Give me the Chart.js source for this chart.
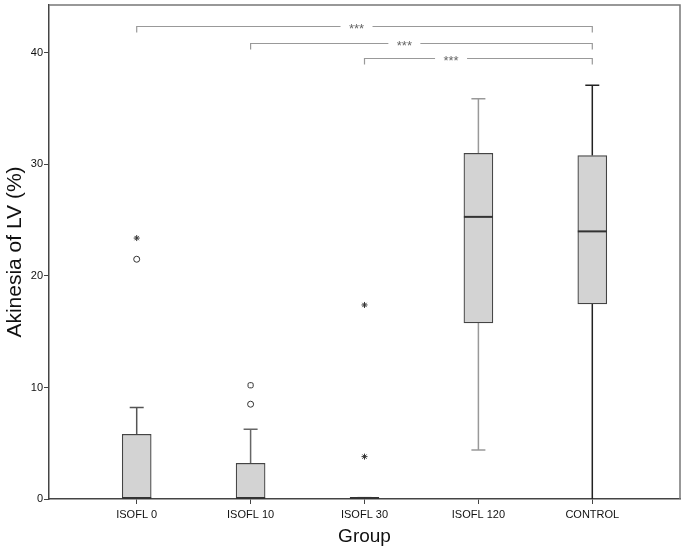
<!DOCTYPE html>
<html>
<head>
<meta charset="utf-8">
<script src="https://cdn.jsdelivr.net/npm/chart.js@4/dist/chart.umd.min.js"></script>
<style>
  html, body { margin: 0; padding: 0; background: #fff; }
  #wrap { width: 685px; height: 548px; }
</style>
</head>
<body>
<div id="wrap"><canvas id="chart"></canvas></div>
<script>
// data
const categories = ['ISOFL 0', 'ISOFL 10', 'ISOFL 30', 'ISOFL 120', 'CONTROL'];
const q1 = [0, 0, 0, 15.8, 17.5];
const q3 = [5.8, 3.2, 0.12, 31.0, 30.8];
const medians = [0, 0, 0, 25.3, 24.0];
const whiskerLow = [0, 0, 0, 4.4, 0];
const whiskerHigh = [8.2, 6.25, 0.12, 35.9, 37.1];

const outlierGroup = [0, 0, 1, 1, 2, 2];
const outlierValue = [21.5, 23.4, 8.5, 10.2, 17.4, 3.8];
const outlierKind = ['circle', 'star', 'circle', 'rectRounded', 'star', 'star'];

// significance brackets: from group -> to group, height, label position
const bracketFrom = [0, 1, 2];
const bracketTo = [4, 4, 4];
const bracketHeight = [42.4, 40.9, 39.55];
const bracketLabelX = [1.93, 2.35, 2.76];
const bracketLabel = ['***', '***', '***'];

const yTicks = [0, 10, 20, 30, 40];

const whiskerColors = ['#555', '#666', '#555', '#999', '#222'];
const FONT = '"Liberation Sans", Arial, sans-serif';

const extras = {
  id: 'boxExtras',
  beforeDatasetsDraw(chart) {
    const { ctx, scales: { x, y } } = chart;
    ctx.save();
    ctx.lineWidth = 1.5;
    categories.forEach((c, i) => {
      const px = x.getPixelForValue(i);
      ctx.strokeStyle = whiskerColors[i];
      ctx.beginPath();
      ctx.moveTo(px, y.getPixelForValue(q3[i]));
      ctx.lineTo(px, y.getPixelForValue(whiskerHigh[i]));
      ctx.moveTo(px - 7, y.getPixelForValue(whiskerHigh[i]));
      ctx.lineTo(px + 7, y.getPixelForValue(whiskerHigh[i]));
      if (whiskerLow[i] < q1[i]) {
        ctx.moveTo(px, y.getPixelForValue(q1[i]));
        ctx.lineTo(px, y.getPixelForValue(whiskerLow[i]));
        if (whiskerLow[i] > 0) {
          ctx.moveTo(px - 7, y.getPixelForValue(whiskerLow[i]));
          ctx.lineTo(px + 7, y.getPixelForValue(whiskerLow[i]));
        }
      }
      ctx.stroke();
    });
    ctx.restore();
  },
  afterDatasetsDraw(chart) {
    const { ctx, scales: { x, y } } = chart;
    ctx.save();
    // medians
    ctx.strokeStyle = '#333';
    ctx.lineWidth = 2;
    categories.forEach((c, i) => {
      const px = x.getPixelForValue(i);
      const py = y.getPixelForValue(medians[i]) - (medians[i] <= 0 ? 1 : 0);
      ctx.beginPath();
      ctx.moveTo(px - 14.5, py);
      ctx.lineTo(px + 14.5, py);
      ctx.stroke();
    });
    // brackets
    ctx.font = '13px ' + FONT;
    ctx.textAlign = 'center';
    ctx.textBaseline = 'middle';
    bracketFrom.forEach((f, k) => {
      const x0 = x.getPixelForValue(f);
      const x1 = x.getPixelForValue(bracketTo[k]);
      const py = Math.round(y.getPixelForValue(bracketHeight[k])) + 0.5;
      const lx = x.getPixelForValue(bracketLabelX[k]);
      ctx.strokeStyle = '#999';
      ctx.lineWidth = 1.2;
      ctx.beginPath();
      ctx.moveTo(x0, py + 6);
      ctx.lineTo(x0, py);
      ctx.lineTo(lx - 16, py);
      ctx.moveTo(lx + 16, py);
      ctx.lineTo(x1, py);
      ctx.lineTo(x1, py + 6);
      ctx.stroke();
      ctx.fillStyle = '#666';
      ctx.fillText(bracketLabel[k], lx, py + 3);
    });
    ctx.restore();
  },
  afterDraw(chart) {
    const { ctx, chartArea: a } = chart;
    ctx.save();
    ctx.strokeStyle = '#777';
    ctx.lineWidth = 1.5;
    ctx.beginPath();
    ctx.moveTo(a.left, a.top);
    ctx.lineTo(a.right, a.top);
    ctx.lineTo(a.right, a.bottom);
    ctx.stroke();
    ctx.restore();
  }
};

new Chart(document.getElementById('chart'), {
  data: {
    datasets: [
      {
        type: 'bar',
        data: categories.map((c, i) => ({ x: i, y: [q1[i], q3[i]] })),
        backgroundColor: '#d3d3d3',
        borderColor: '#444',
        borderWidth: 1.2,
        borderSkipped: false,
        barThickness: 29,
      },
      {
        type: 'scatter',
        data: outlierGroup.map((g, i) => ({ x: g, y: outlierValue[i] })),
        pointStyle: outlierKind,
        pointRadius: 3,
        borderColor: '#333',
        borderWidth: 1,
        backgroundColor: '#fff',
      },
    ],
  },
  plugins: [extras],
  options: {
    responsive: true,
    maintainAspectRatio: false,
    animation: false,
    layout: { padding: { top: 3, right: 4, left: 0, bottom: 0 } },
    plugins: { legend: { display: false }, tooltip: { enabled: false } },
    scales: {
      x: {
        type: 'linear',
        min: -0.77,
        max: 4.77,
        offset: false,
        afterBuildTicks: (s) => { s.ticks = categories.map((c, i) => ({ value: i })); },
        afterFit: (s) => { s.height = 49; },
        grid: { drawOnChartArea: false, drawTicks: true, tickLength: 5, color: '#444', offset: false },
        border: { color: '#444', width: 1.5 },
        ticks: {
          callback: (v) => categories[v],
          autoSkip: false,
          maxRotation: 0,
          color: '#111',
          padding: 4,
          font: { family: FONT, size: 11 },
        },
        title: {
          display: true,
          text: 'Group',
          color: '#111',
          font: { family: FONT, size: 19 },
          padding: { top: 4, bottom: 0 },
        },
      },
      y: {
        min: 0,
        max: 44.3,
        afterBuildTicks: (s) => { s.ticks = yTicks.map((v) => ({ value: v })); },
        afterFit: (s) => { s.width = 49; s.paddingTop = 0; },
        grid: { drawOnChartArea: false, drawTicks: true, tickLength: 5, color: '#444' },
        border: { color: '#444', width: 1.5 },
        ticks: {
          color: '#111',
          padding: 1,
          font: { family: FONT, size: 11 },
        },
        title: {
          display: true,
          text: 'Akinesia of LV (%)',
          color: '#111',
          font: { family: FONT, size: 21 },
          padding: { top: 3, bottom: 6 },
        },
      },
    },
  },
});
</script>
</body>
</html>
